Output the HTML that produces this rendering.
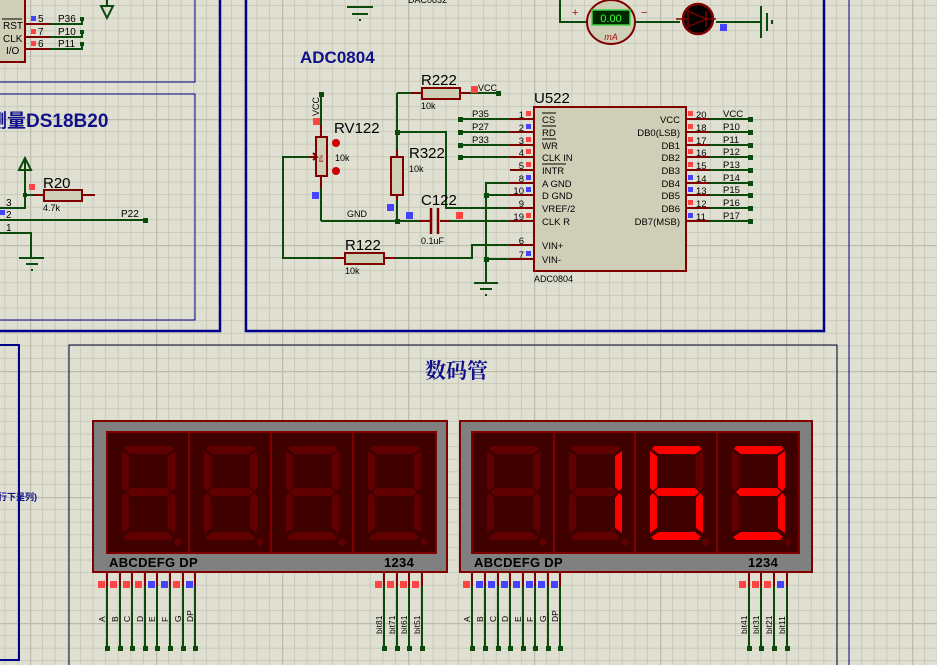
<!DOCTYPE html>
<html><head><meta charset="utf-8"><style>
html,body{margin:0;padding:0;background:#e0e0d2;}
svg{display:block;font-family:"Liberation Sans",sans-serif;}
</style></head><body>
<svg width="937" height="665" viewBox="0 0 937 665" xmlns="http://www.w3.org/2000/svg">
<defs>
<pattern id="gr" x="30" y="-7" width="126" height="126" patternUnits="userSpaceOnUse">
<g stroke="#cacabb" stroke-width="1">
<path d="M12.6 0V126M25.2 0V126M37.8 0V126M50.4 0V126M63 0V126M75.6 0V126M88.2 0V126M100.8 0V126M113.4 0V126"/>
<path d="M0 12.6H126M0 25.2H126M0 37.8H126M0 50.4H126M0 63H126M0 75.6H126M0 88.2H126M0 100.8H126M0 113.4H126"/>
</g>
<path d="M0 0V126M0 0H126" stroke="#bcbcac" stroke-width="2.5"/>
</pattern>
<g id="sa"><polygon points="19,14 64,14 67,17 60,22 24,22 17,17"/></g>
<g id="sb"><polygon points="68,19 68,56 65,59 61,55 61,24"/></g>
<g id="sc"><polygon points="68,64 68,101 61,96 61,66 65,61"/></g>
<g id="sd"><polygon points="24,100 60,100 66,105 63,108 19,108 16,105"/></g>
<g id="se"><polygon points="15,64 18,61 22,66 22,96 15,101"/></g>
<g id="sf"><polygon points="15,19 22,24 22,55 18,59 15,56"/></g>
<g id="sg"><polygon points="19,60 23,56 60,56 64,60 60,64 23,64"/></g>
<g id="dig" fill="#600000">
<use href="#sa"/><use href="#sb"/><use href="#sc"/><use href="#sd"/><use href="#se"/><use href="#sf"/><use href="#sg"/>
<circle cx="71" cy="110" r="3.5"/>
</g>
</defs>
<rect width="937" height="665" fill="#e0e0d2"/>
<rect width="937" height="665" fill="url(#gr)"/>

<!-- frames -->
<g fill="none" stroke="#00008b">
<path d="M0 82H195V0M0 94H195V320H0" stroke-width="1"/>
<path d="M220 0V331H0M246 0V331H824V0" stroke-width="2.5"/>
<path d="M849 0V665" stroke-width="1"/>
<path d="M0 345H19V660H0" stroke-width="2"/>
</g>
<path d="M69 665V345H837V665" fill="none" stroke="#000030" stroke-width="1"/>

<!-- top left chip -->
<rect x="-5" y="-5" width="30" height="67" fill="#cfcfb8" stroke="#800000" stroke-width="2"/>
<g font-size="10" fill="#000">
<text x="3" y="29">RST</text><text x="3" y="42">CLK</text><text x="6" y="54">I/O</text>
<line x1="2" y1="19" x2="22" y2="19" stroke="#000"/>
<text x="38" y="22">5</text><text x="38" y="35">7</text><text x="38" y="47">6</text>
<text x="58" y="22">P36</text><text x="58" y="35">P10</text><text x="58" y="47">P11</text>
</g>
<rect x="31" y="16" width="5" height="5" fill="#4444ff"/><rect x="31" y="29" width="5" height="5" fill="#ff4444"/><rect x="31" y="41" width="5" height="5" fill="#ff4444"/>
<g stroke="#800000" stroke-width="2"><path d="M25 24H50M25 37H50M25 49H50"/></g>
<g stroke="#0b4a0b" stroke-width="2" fill="none"><path d="M50 24H82V19M50 37H82V32M50 49H82V44"/></g>
<g fill="#0b4a0b"><rect x="80" y="17" width="4" height="4"/><rect x="80" y="30" width="4" height="4"/><rect x="80" y="42" width="4" height="4"/></g>
<path d="M107 0V6M101 6L113 6L107 18Z" stroke="#0b4a0b" stroke-width="2" fill="none"/>

<!-- DS18B20 -->
<text x="-12" y="127" font-size="19" font-weight="bold" fill="#10108a" font-family="'Liberation Sans','Noto Sans CJK SC',sans-serif">测量DS18B20</text>
<g stroke="#0b4a0b" stroke-width="2" fill="none">
<path d="M0 208H25V160M19 170L25 158L31 170Z"/>
<path d="M25 195H33"/>
<path d="M0 220H145"/>
<path d="M0 233H31V258M19 258H44M26 264H38M31 270H33"/>
</g>
<rect x="23" y="193" width="4" height="4" fill="#0b4a0b"/><rect x="143" y="218" width="5" height="5" fill="#0b4a0b"/>
<path d="M33 195H44M82 195H95" stroke="#800000" stroke-width="2"/>
<rect x="44" y="190" width="38" height="11" fill="#cfcfb8" stroke="#800000" stroke-width="2"/>
<rect x="29" y="184" width="6" height="6" fill="#ff4444"/><rect x="0" y="210" width="5" height="5" fill="#4444ff"/>
<g font-size="10"><text x="43" y="188" font-size="15">R20</text><text x="43" y="211" font-size="9">4.7k</text>
<text x="6" y="206">3</text><text x="6" y="218">2</text><text x="6" y="231">1</text><text x="121" y="217">P22</text></g>

<!-- top ADC area -->
<path d="M347 7H373M352 14H368M359 20H361" stroke="#0b4a0b" stroke-width="2"/>
<text x="408" y="3" font-size="9">DAC0832</text>
<path d="M560 0V22H588M634 22H680M716 22H761" stroke="#0b4a0b" stroke-width="2" fill="none"/>
<path d="M761 6V38M767 13V31M772 20V24" stroke="#0b4a0b" stroke-width="2"/>
<ellipse cx="611" cy="22" rx="24" ry="22" fill="#cfcfb8" stroke="#800000" stroke-width="2"/>
<rect x="592" y="10" width="38" height="15" fill="#002800" stroke="#40d040" stroke-width="1.5"/>
<text x="611" y="22" text-anchor="middle" font-size="11" fill="#40ff40">0.00</text>
<text x="611" y="40" text-anchor="middle" font-size="9" font-style="italic" fill="#a01010">mA</text>
<text x="572" y="16" font-size="11" fill="#a01010">+</text><text x="641" y="16" font-size="11" fill="#a01010">−</text>
<circle cx="698" cy="19" r="15" fill="#000" stroke="#800000" stroke-width="2.5"/>
<path d="M688 11L706 19L688 27ZM706 11V27M676 19H688M706 19H716" stroke="#800000" stroke-width="1.5" fill="none"/>
<rect x="720" y="24" width="7" height="7" fill="#4444ff"/>

<text x="300" y="63" font-size="17" font-weight="bold" fill="#10108a">ADC0804</text>

<!-- U522 -->
<rect x="534" y="107" width="152" height="164" fill="#cfcfb8" stroke="#800000" stroke-width="2"/>
<text x="534" y="103" font-size="15">U522</text>
<text x="534" y="282" font-size="9">ADC0804</text>
<g stroke="#800000" stroke-width="2">
<path d="M510 119H534M510 132H534M510 145H534M510 157H534M510 170H534M510 183H534M510 195H534M510 208H534M510 221H534M510 245H534M510 259H534"/>
<path d="M686 119H710M686 132H710M686 145H710M686 157H710M686 170H710M686 183H710M686 195H710M686 208H710M686 221H710"/>
</g>
<g font-size="9.5">
<text x="542" y="123">CS</text><text x="542" y="136">RD</text><text x="542" y="149">WR</text><text x="542" y="161">CLK IN</text><text x="542" y="174">INTR</text><text x="542" y="187">A GND</text><text x="542" y="199">D GND</text><text x="542" y="212">VREF/2</text><text x="542" y="225">CLK R</text><text x="542" y="249">VIN+</text><text x="542" y="263">VIN-</text>
</g>
<path d="M542 113H556M542 126H556M542 139H556M542 164H566" stroke="#000" stroke-width="1"/>
<g font-size="9.5" text-anchor="end">
<text x="680" y="123">VCC</text><text x="680" y="136">DB0(LSB)</text><text x="680" y="149">DB1</text><text x="680" y="161">DB2</text><text x="680" y="174">DB3</text><text x="680" y="187">DB4</text><text x="680" y="199">DB5</text><text x="680" y="212">DB6</text><text x="680" y="225">DB7(MSB)</text>
</g>
<g font-size="9.5" text-anchor="end">
<text x="524" y="118">1</text><text x="524" y="131">2</text><text x="524" y="144">3</text><text x="524" y="156">4</text><text x="524" y="169">5</text><text x="524" y="182">8</text><text x="524" y="194">10</text><text x="524" y="207">9</text><text x="524" y="220">19</text><text x="524" y="244">6</text><text x="524" y="258">7</text>
</g>
<g font-size="9.5">
<text x="696" y="118">20</text><text x="696" y="131">18</text><text x="696" y="144">17</text><text x="696" y="156">16</text><text x="696" y="169">15</text><text x="696" y="182">14</text><text x="696" y="194">13</text><text x="696" y="207">12</text><text x="696" y="220">11</text>
<text x="723" y="117">VCC</text><text x="723" y="130">P10</text><text x="723" y="143">P11</text><text x="723" y="155">P12</text><text x="723" y="168">P13</text><text x="723" y="181">P14</text><text x="723" y="193">P15</text><text x="723" y="206">P16</text><text x="723" y="219">P17</text>
<text x="472" y="117">P35</text><text x="472" y="130">P27</text><text x="472" y="143">P33</text>
</g>
<g>
<rect x="526" y="111" width="5" height="5" fill="#ff4444"/><rect x="526" y="124" width="5" height="5" fill="#4444ff"/><rect x="526" y="137" width="5" height="5" fill="#ff4444"/><rect x="526" y="149" width="5" height="5" fill="#ff4444"/><rect x="526" y="162" width="5" height="5" fill="#ff4444"/><rect x="526" y="175" width="5" height="5" fill="#4444ff"/><rect x="526" y="187" width="5" height="5" fill="#4444ff"/><rect x="526" y="213" width="5" height="5" fill="#ff4444"/><rect x="526" y="251" width="5" height="5" fill="#4444ff"/>
<rect x="688" y="111" width="5" height="5" fill="#ff4444"/><rect x="688" y="124" width="5" height="5" fill="#ff4444"/><rect x="688" y="137" width="5" height="5" fill="#ff4444"/><rect x="688" y="149" width="5" height="5" fill="#ff4444"/><rect x="688" y="162" width="5" height="5" fill="#ff4444"/><rect x="688" y="175" width="5" height="5" fill="#4444ff"/><rect x="688" y="187" width="5" height="5" fill="#4444ff"/><rect x="688" y="200" width="5" height="5" fill="#ff4444"/><rect x="688" y="213" width="5" height="5" fill="#4444ff"/>
</g>
<g stroke="#0b4a0b" stroke-width="2" fill="none">
<path d="M710 119H750M710 132H750M710 145H750M710 157H750M710 170H750M710 183H750M710 195H750M710 208H750M710 221H750"/>
<path d="M460 119H510M460 132H510M460 145H510M460 157H510"/>
<path d="M510 183H486V283M474 283H498M480 289H492M485 295H487"/>
<path d="M486 195H510M486 259H510"/>
<path d="M397 132H446V208H510"/>
<path d="M321 221H430M440 221H510"/>
<path d="M397 93V157M397 195V221"/>
<path d="M397 93H411M470 93H498"/>
<path d="M321 94V125M321 188V221"/>
<path d="M312 157H283V258H334M395 258H472V245H510"/>
</g>
<g fill="#0b4a0b">
<rect x="748" y="117" width="5" height="5"/><rect x="748" y="130" width="5" height="5"/><rect x="748" y="143" width="5" height="5"/><rect x="748" y="155" width="5" height="5"/><rect x="748" y="168" width="5" height="5"/><rect x="748" y="181" width="5" height="5"/><rect x="748" y="193" width="5" height="5"/><rect x="748" y="206" width="5" height="5"/><rect x="748" y="219" width="5" height="5"/>
<rect x="458" y="117" width="5" height="5"/><rect x="458" y="130" width="5" height="5"/><rect x="458" y="143" width="5" height="5"/><rect x="458" y="155" width="5" height="5"/>
<rect x="484" y="193" width="5" height="5"/><rect x="484" y="257" width="5" height="5"/>
<rect x="395" y="130" width="5" height="5"/><rect x="395" y="219" width="5" height="5"/><rect x="496" y="91" width="5" height="5"/><rect x="319" y="92" width="5" height="5"/>
</g>
<path d="M411 93H422M460 93H470" stroke="#800000" stroke-width="2"/>
<rect x="422" y="88" width="38" height="11" fill="#cfcfb8" stroke="#800000" stroke-width="2"/>
<text x="421" y="85" font-size="15">R222</text><text x="421" y="109" font-size="9">10k</text>
<rect x="471" y="86" width="7" height="7" fill="#ff4444"/><text x="478" y="91" font-size="9">VCC</text>
<path d="M397 150V157M397 195V200" stroke="#800000" stroke-width="2"/>
<rect x="391" y="157" width="12" height="38" fill="#cfcfb8" stroke="#800000" stroke-width="2"/>
<text x="409" y="158" font-size="15">R322</text><text x="409" y="172" font-size="9">10k</text>
<rect x="387" y="204" width="7" height="7" fill="#4444ff"/>
<path d="M420 221H430M440 221H450" stroke="#800000" stroke-width="2"/>
<path d="M431 208V234M438 208V234" stroke="#800000" stroke-width="2.5"/>
<text x="421" y="205" font-size="15">C122</text><text x="421" y="244" font-size="9">0.1uF</text>
<rect x="406" y="212" width="7" height="7" fill="#4444ff"/><rect x="456" y="212" width="7" height="7" fill="#ff4444"/>
<path d="M321 125V137M321 176V188" stroke="#800000" stroke-width="2"/>
<rect x="316" y="137" width="11" height="39" fill="#cfcfb8" stroke="#800000" stroke-width="2"/>
<path d="M310 157H316M313 153L317 157L313 160" stroke="#800000" stroke-width="2" fill="none"/>
<text x="323" y="155" font-size="5" fill="#800000" transform="rotate(90 321 153)">%9</text>
<circle cx="336" cy="143" r="4" fill="#cc0000"/><circle cx="336" cy="171" r="4" fill="#cc0000"/>
<text x="334" y="133" font-size="15">RV122</text><text x="335" y="161" font-size="9">10k</text>
<rect x="313" y="118" width="7" height="7" fill="#ff4444"/>
<text x="319" y="116" font-size="9" transform="rotate(-90 319 116)">VCC</text>
<rect x="312" y="192" width="7" height="7" fill="#4444ff"/>
<text x="347" y="217" font-size="9">GND</text>
<path d="M334 258H345M384 258H395" stroke="#800000" stroke-width="2"/>
<rect x="345" y="253" width="39" height="11" fill="#cfcfb8" stroke="#800000" stroke-width="2"/>
<text x="345" y="250" font-size="15">R122</text><text x="345" y="274" font-size="9">10k</text>

<text x="-2" y="500" font-size="9" font-weight="bold" fill="#10108a" font-family="'Liberation Sans','Noto Sans CJK SC',sans-serif">行下是列)</text>

<text x="425" y="378" font-size="21" font-weight="bold" fill="#10108a" font-family="'Liberation Serif','Noto Serif CJK SC',serif">数码管</text>

<!-- Display left -->
<rect x="93" y="421" width="354" height="151" fill="#808080" stroke="#800000" stroke-width="2"/>
<rect x="107" y="432" width="329" height="121" fill="#3f0000" stroke="#800000" stroke-width="2"/>
<path d="M189 432V553M271 432V553M353 432V553" stroke="#800000" stroke-width="2"/>
<use href="#dig" x="107" y="432"/><use href="#dig" x="189" y="432"/><use href="#dig" x="271" y="432"/><use href="#dig" x="353" y="432"/>
<text x="109" y="567" font-size="13" font-weight="bold" letter-spacing="0.3">ABCDEFG DP</text>
<text x="384" y="567" font-size="13" font-weight="bold" letter-spacing="0.3">1234</text>

<!-- Display right -->
<rect x="460" y="421" width="352" height="151" fill="#808080" stroke="#800000" stroke-width="2"/>
<rect x="472" y="432" width="327" height="121" fill="#3f0000" stroke="#800000" stroke-width="2"/>
<path d="M554 432V553M635 432V553M717 432V553" stroke="#800000" stroke-width="2"/>
<use href="#dig" x="472" y="432"/><use href="#dig" x="554" y="432"/><use href="#dig" x="635" y="432"/><use href="#dig" x="717" y="432"/>
<g fill="#ff0000">
<use href="#sb" x="554" y="432"/><use href="#sc" x="554" y="432"/>
<use href="#sa" x="635" y="432"/><use href="#sf" x="635" y="432"/><use href="#sg" x="635" y="432"/><use href="#se" x="635" y="432"/><use href="#sd" x="635" y="432"/><use href="#sc" x="635" y="432"/>
<use href="#sa" x="717" y="432"/><use href="#sb" x="717" y="432"/><use href="#sg" x="717" y="432"/><use href="#sc" x="717" y="432"/><use href="#sd" x="717" y="432"/>
</g>
<text x="474" y="567" font-size="13" font-weight="bold" letter-spacing="0.3">ABCDEFG DP</text>
<text x="748" y="567" font-size="13" font-weight="bold" letter-spacing="0.3">1234</text>

<g stroke="#800000" stroke-width="2"><path d="M107 572V586M120 572V586M132 572V586M145 572V586M157 572V586M170 572V586M183 572V586M195 572V586M384 572V586M397 572V586M409 572V586M422 572V586"/>
<path d="M472 572V586M485 572V586M498 572V586M510 572V586M523 572V586M535 572V586M548 572V586M560 572V586M749 572V586M761 572V586M774 572V586M787 572V586"/></g>
<g stroke="#0b4a0b" stroke-width="2"><path d="M107 586V648M120 586V648M132 586V648M145 586V648M157 586V648M170 586V648M183 586V648M195 586V648M384 586V648M397 586V648M409 586V648M422 586V648"/>
<path d="M472 586V648M485 586V648M498 586V648M510 586V648M523 586V648M535 586V648M548 586V648M560 586V648M749 586V648M761 586V648M774 586V648M787 586V648"/></g>
<g fill="#0b4a0b">
<rect x="105" y="646" width="5" height="5"/><rect x="118" y="646" width="5" height="5"/><rect x="130" y="646" width="5" height="5"/><rect x="143" y="646" width="5" height="5"/><rect x="155" y="646" width="5" height="5"/><rect x="168" y="646" width="5" height="5"/><rect x="181" y="646" width="5" height="5"/><rect x="193" y="646" width="5" height="5"/><rect x="382" y="646" width="5" height="5"/><rect x="395" y="646" width="5" height="5"/><rect x="407" y="646" width="5" height="5"/><rect x="420" y="646" width="5" height="5"/>
<rect x="470" y="646" width="5" height="5"/><rect x="483" y="646" width="5" height="5"/><rect x="496" y="646" width="5" height="5"/><rect x="508" y="646" width="5" height="5"/><rect x="521" y="646" width="5" height="5"/><rect x="533" y="646" width="5" height="5"/><rect x="546" y="646" width="5" height="5"/><rect x="558" y="646" width="5" height="5"/><rect x="747" y="646" width="5" height="5"/><rect x="759" y="646" width="5" height="5"/><rect x="772" y="646" width="5" height="5"/><rect x="785" y="646" width="5" height="5"/>
</g>
<g>
<rect x="98" y="581" width="7" height="7" fill="#ff4444"/><rect x="110" y="581" width="7" height="7" fill="#ff4444"/><rect x="123" y="581" width="7" height="7" fill="#ff4444"/><rect x="135" y="581" width="7" height="7" fill="#ff4444"/><rect x="148" y="581" width="7" height="7" fill="#4444ff"/><rect x="161" y="581" width="7" height="7" fill="#4444ff"/><rect x="173" y="581" width="7" height="7" fill="#ff4444"/><rect x="186" y="581" width="7" height="7" fill="#4444ff"/>
<rect x="375" y="581" width="7" height="7" fill="#ff4444"/><rect x="387" y="581" width="7" height="7" fill="#ff4444"/><rect x="400" y="581" width="7" height="7" fill="#ff4444"/><rect x="412" y="581" width="7" height="7" fill="#ff4444"/>
<rect x="463" y="581" width="7" height="7" fill="#ff4444"/><rect x="476" y="581" width="7" height="7" fill="#4444ff"/><rect x="488" y="581" width="7" height="7" fill="#4444ff"/><rect x="501" y="581" width="7" height="7" fill="#4444ff"/><rect x="513" y="581" width="7" height="7" fill="#4444ff"/><rect x="526" y="581" width="7" height="7" fill="#4444ff"/><rect x="538" y="581" width="7" height="7" fill="#4444ff"/><rect x="551" y="581" width="7" height="7" fill="#4444ff"/>
<rect x="739" y="581" width="7" height="7" fill="#ff4444"/><rect x="752" y="581" width="7" height="7" fill="#ff4444"/><rect x="764" y="581" width="7" height="7" fill="#ff4444"/><rect x="777" y="581" width="7" height="7" fill="#4444ff"/>
</g>
<g font-size="8.5">
<text transform="translate(105,622) rotate(-90)">A</text><text transform="translate(118,622) rotate(-90)">B</text><text transform="translate(130,622) rotate(-90)">C</text><text transform="translate(143,622) rotate(-90)">D</text><text transform="translate(155,622) rotate(-90)">E</text><text transform="translate(168,622) rotate(-90)">F</text><text transform="translate(181,622) rotate(-90)">G</text><text transform="translate(193,622) rotate(-90)">DP</text>
<text transform="translate(382,634) rotate(-90)">bit81</text><text transform="translate(395,634) rotate(-90)">bit71</text><text transform="translate(407,634) rotate(-90)">bit61</text><text transform="translate(420,634) rotate(-90)">bit51</text>
<text transform="translate(470,622) rotate(-90)">A</text><text transform="translate(483,622) rotate(-90)">B</text><text transform="translate(496,622) rotate(-90)">C</text><text transform="translate(508,622) rotate(-90)">D</text><text transform="translate(521,622) rotate(-90)">E</text><text transform="translate(533,622) rotate(-90)">F</text><text transform="translate(546,622) rotate(-90)">G</text><text transform="translate(558,622) rotate(-90)">DP</text>
<text transform="translate(747,634) rotate(-90)">bit41</text><text transform="translate(759,634) rotate(-90)">bit31</text><text transform="translate(772,634) rotate(-90)">bit21</text><text transform="translate(785,634) rotate(-90)">bit11</text>
</g>
</svg>
</body></html>
